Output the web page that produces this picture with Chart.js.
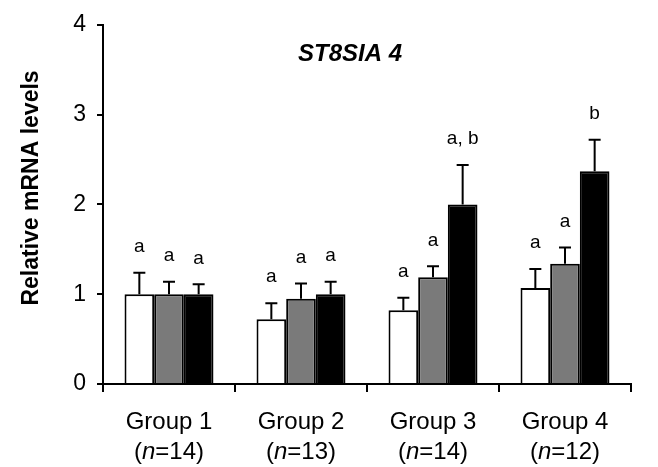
<!DOCTYPE html>
<html>
<head>
<meta charset="utf-8">
<script src="https://cdn.jsdelivr.net/npm/chart.js@4/dist/chart.umd.min.js"></script>
<style>
  html, body { margin: 0; padding: 0; background: #fff; }
  #wrap { width: 658px; height: 467px; position: relative; }
</style>
</head>
<body>
<div id="wrap"><canvas id="chart"></canvas></div>
<script>
// categories and sample sizes
const groups = ['Group 1', 'Group 2', 'Group 3', 'Group 4'];
const groupN = [14, 13, 14, 12];

// series: mean and SE
const whiteMean = [1.0, 0.72, 0.82, 1.07];
const whiteSE = [0.24, 0.18, 0.14, 0.21];
const greyMean = [1.0, 0.95, 1.19, 1.34];
const greySE = [0.14, 0.17, 0.12, 0.18];
const blackMean = [1.0, 1.0, 2.0, 2.37];
const blackSE = [0.11, 0.14, 0.44, 0.35];

// significance letters above each bar
const whiteLetters = ['a', 'a', 'a', 'a'];
const greyLetters = ['a', 'a', 'a', 'a'];
const blackLetters = ['a', 'a', 'a, b', 'b'];

const yTicks = [0, 1, 2, 3, 4];
const chartTitle = 'ST8SIA 4';
const yTitle = 'Relative mRNA levels';

const FONT = '"Liberation Sans", Arial, Helvetica, sans-serif';

const seList = [whiteSE, greySE, blackSE];
const letterList = [whiteLetters, greyLetters, blackLetters];

// error bars, letters, titles and two-line category labels
const annotate = {
    id: 'annotate',
    afterDatasetsDraw(chart) {
        const ctx = chart.ctx;
        const y = chart.scales.y;
        const x = chart.scales.x;
        ctx.save();
        ctx.strokeStyle = '#000';
        ctx.fillStyle = '#000';
        ctx.lineWidth = 2;

        chart.data.datasets.forEach((ds, di) => {
            const meta = chart.getDatasetMeta(di);
            meta.data.forEach((bar, i) => {
                const top = y.getPixelForValue(ds.data[i] + seList[di][i]);
                ctx.beginPath();
                ctx.moveTo(bar.x, bar.y);
                ctx.lineTo(bar.x, top);
                ctx.moveTo(bar.x - 6, top);
                ctx.lineTo(bar.x + 6, top);
                ctx.stroke();

                ctx.font = '19px ' + FONT;
                ctx.textAlign = 'center';
                ctx.textBaseline = 'middle';
                ctx.fillText(letterList[di][i], bar.x, top - 26);
            });
        });

        // chart title
        ctx.font = 'italic bold 24px ' + FONT;
        ctx.textAlign = 'center';
        ctx.textBaseline = 'alphabetic';
        ctx.fillText(chartTitle, 350, 61);

        // y axis title
        ctx.save();
        ctx.translate(38, 188);
        ctx.rotate(-Math.PI / 2);
        ctx.font = 'bold 23px ' + FONT;
        ctx.fillText(yTitle, 0, 0);
        ctx.restore();

        // category labels
        groups.forEach((g, i) => {
            const cx = x.getPixelForValue(i);
            ctx.font = '24px ' + FONT;
            ctx.textAlign = 'center';
            ctx.fillText(g, cx, 429);

            const a = '(', n = 'n', b = '=' + groupN[i] + ')';
            ctx.font = '24px ' + FONT;
            const wa = ctx.measureText(a).width;
            const wb = ctx.measureText(b).width;
            ctx.font = 'italic 24px ' + FONT;
            const wn = ctx.measureText(n).width;
            let sx = cx - (wa + wn + wb) / 2;
            ctx.textAlign = 'left';
            ctx.font = '24px ' + FONT;
            ctx.fillText(a, sx, 459);
            ctx.font = 'italic 24px ' + FONT;
            ctx.fillText(n, sx + wa, 459);
            ctx.font = '24px ' + FONT;
            ctx.fillText(b, sx + wa + wn, 459);
        });
        ctx.restore();
    }
};

const ctx = document.getElementById('chart').getContext('2d');
new Chart(ctx, {
    type: 'bar',
    data: {
        labels: groups,
        datasets: [
            { label: 'white', data: whiteMean, backgroundColor: '#ffffff' },
            { label: 'grey', data: greyMean, backgroundColor: '#7a7a7a' },
            { label: 'black', data: blackMean, backgroundColor: '#000000' }
        ].map(d => Object.assign(d, {
            borderColor: '#000',
            borderWidth: 2,
            categoryPercentage: 0.674,
            barPercentage: 1.0
        }))
    },
    options: {
        responsive: true,
        maintainAspectRatio: false,
        animation: false,
        layout: { padding: { left: 0, top: 22, right: 27, bottom: 0 } },
        plugins: {
            legend: { display: false },
            tooltip: { enabled: false }
        },
        scales: {
            x: {
                offset: true,
                grid: {
                    offset: true,
                    drawOnChartArea: false,
                    drawTicks: true,
                    tickLength: 8,
                    color: '#000',
                    lineWidth: 2
                },
                border: { display: true, color: '#000', width: 2 },
                ticks: { display: false },
                afterFit: s => { s.height = 83; }
            },
            y: {
                min: 0,
                max: 4,
                afterBuildTicks: s => { s.ticks = yTicks.map(v => ({ value: v })); },
                ticks: {
                    color: '#000',
                    font: { family: FONT, size: 23 },
                    padding: 11
                },
                grid: {
                    drawOnChartArea: false,
                    drawTicks: true,
                    tickLength: 6,
                    color: '#000',
                    lineWidth: 2
                },
                border: { display: true, color: '#000', width: 2 },
                afterFit: s => { s.width = 103; }
            }
        }
    },
    plugins: [annotate]
});
</script>
</body>
</html>
